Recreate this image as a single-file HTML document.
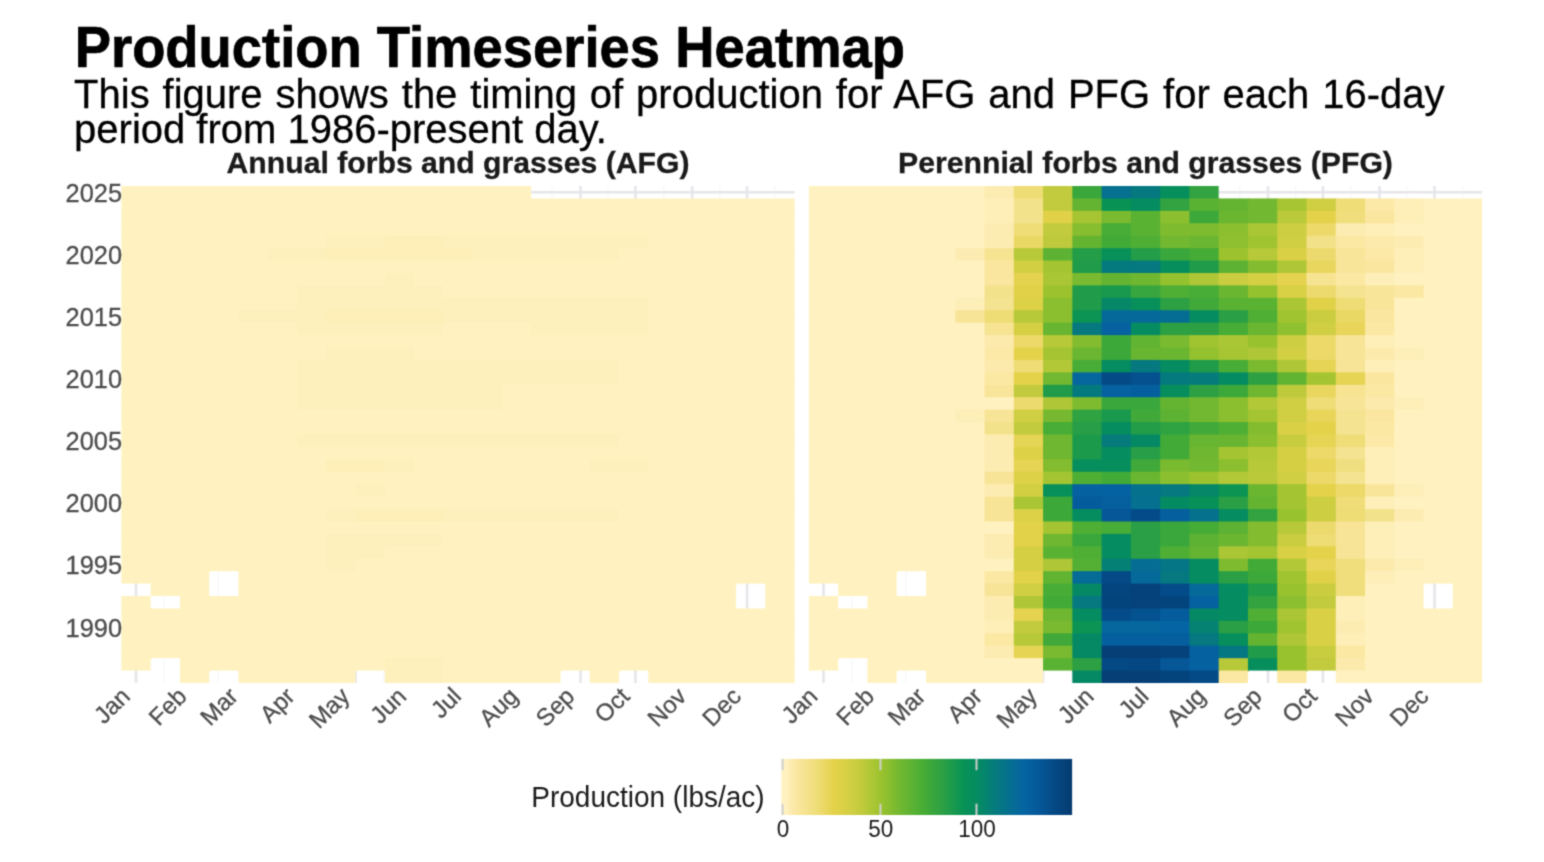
<!DOCTYPE html>
<html><head><meta charset="utf-8"><style>
html,body{margin:0;padding:0;background:#fff;}
body{width:1544px;height:862px;overflow:hidden;position:relative;font-family:"Liberation Sans",sans-serif;}
svg{position:absolute;left:0;top:0;}
.strip{font-weight:bold;font-size:30.2px;fill:#1A1A1A;stroke:#1A1A1A;stroke-width:0.3px;}
.title{font-weight:bold;font-size:54.4px;fill:#000;stroke:#000;stroke-width:0.7px;}
.sub{font-size:40px;fill:#000;stroke:#000;stroke-width:0.3px;}
.ax{font-size:24px;fill:#4D4D4D;stroke:#4D4D4D;stroke-width:0.3px;}
.ay{font-size:25.4px;fill:#4D4D4D;stroke:#4D4D4D;stroke-width:0.3px;}
.leg{font-size:22.5px;fill:#1A1A1A;}
.legt{font-size:28px;fill:#1A1A1A;}
</style></head><body>
<svg width="1544" height="862" viewBox="0 0 1544 862">
<filter id="bl" filterUnits="userSpaceOnUse" x="0" y="0" width="1544" height="862" color-interpolation-filters="sRGB"><feConvolveMatrix order="3" kernelMatrix="0.0300 0.1200 0.0300 0.1200 0.4000 0.1200 0.0300 0.1200 0.0300" divisor="1" edgeMode="duplicate" preserveAlpha="false"/></filter>
<rect width="1544" height="862" fill="#fff"/>
<g filter="url(#bl)">
<text x="74.7" y="66.8" transform="translate(0,66.8) scale(1,1.061) translate(0,-66.8)" class="title">Production Timeseries Heatmap</text>
<text x="74.1" y="108.2" transform="translate(0,108.2) scale(1,1.033) translate(0,-108.2)" class="sub" word-spacing="1.8">This figure shows the timing of production for AFG and PFG for each 16-day</text>
<text x="74.1" y="142.7" transform="translate(0,142.7) scale(1,1.033) translate(0,-142.7)" class="sub">period from 1986-present day.</text>
<line x1="164.39" y1="186.0" x2="164.39" y2="683.0" stroke="#F7F7F9" stroke-width="1.3"/>
<line x1="218.36" y1="186.0" x2="218.36" y2="683.0" stroke="#F7F7F9" stroke-width="1.3"/>
<line x1="272.32" y1="186.0" x2="272.32" y2="683.0" stroke="#F7F7F9" stroke-width="1.3"/>
<line x1="328.12" y1="186.0" x2="328.12" y2="683.0" stroke="#F7F7F9" stroke-width="1.3"/>
<line x1="383.92" y1="186.0" x2="383.92" y2="683.0" stroke="#F7F7F9" stroke-width="1.3"/>
<line x1="439.71" y1="186.0" x2="439.71" y2="683.0" stroke="#F7F7F9" stroke-width="1.3"/>
<line x1="495.51" y1="186.0" x2="495.51" y2="683.0" stroke="#F7F7F9" stroke-width="1.3"/>
<line x1="552.22" y1="186.0" x2="552.22" y2="683.0" stroke="#F7F7F9" stroke-width="1.3"/>
<line x1="608.01" y1="186.0" x2="608.01" y2="683.0" stroke="#F7F7F9" stroke-width="1.3"/>
<line x1="663.81" y1="186.0" x2="663.81" y2="683.0" stroke="#F7F7F9" stroke-width="1.3"/>
<line x1="719.61" y1="186.0" x2="719.61" y2="683.0" stroke="#F7F7F9" stroke-width="1.3"/>
<line x1="775.40" y1="186.0" x2="775.40" y2="683.0" stroke="#F7F7F9" stroke-width="1.3"/>
<line x1="136.03" y1="186.0" x2="136.03" y2="683.0" stroke="#E6E5EA" stroke-width="2.6"/>
<line x1="192.75" y1="186.0" x2="192.75" y2="683.0" stroke="#E6E5EA" stroke-width="2.6"/>
<line x1="243.97" y1="186.0" x2="243.97" y2="683.0" stroke="#E6E5EA" stroke-width="2.6"/>
<line x1="300.68" y1="186.0" x2="300.68" y2="683.0" stroke="#E6E5EA" stroke-width="2.6"/>
<line x1="355.56" y1="186.0" x2="355.56" y2="683.0" stroke="#E6E5EA" stroke-width="2.6"/>
<line x1="412.27" y1="186.0" x2="412.27" y2="683.0" stroke="#E6E5EA" stroke-width="2.6"/>
<line x1="467.15" y1="186.0" x2="467.15" y2="683.0" stroke="#E6E5EA" stroke-width="2.6"/>
<line x1="523.86" y1="186.0" x2="523.86" y2="683.0" stroke="#E6E5EA" stroke-width="2.6"/>
<line x1="580.57" y1="186.0" x2="580.57" y2="683.0" stroke="#E6E5EA" stroke-width="2.6"/>
<line x1="635.45" y1="186.0" x2="635.45" y2="683.0" stroke="#E6E5EA" stroke-width="2.6"/>
<line x1="692.16" y1="186.0" x2="692.16" y2="683.0" stroke="#E6E5EA" stroke-width="2.6"/>
<line x1="747.05" y1="186.0" x2="747.05" y2="683.0" stroke="#E6E5EA" stroke-width="2.6"/>
<line x1="121.4" y1="627.09" x2="794.61" y2="627.09" stroke="#E6E5EA" stroke-width="2.6"/>
<line x1="121.4" y1="564.96" x2="794.61" y2="564.96" stroke="#E6E5EA" stroke-width="2.6"/>
<line x1="121.4" y1="502.84" x2="794.61" y2="502.84" stroke="#E6E5EA" stroke-width="2.6"/>
<line x1="121.4" y1="440.71" x2="794.61" y2="440.71" stroke="#E6E5EA" stroke-width="2.6"/>
<line x1="121.4" y1="378.59" x2="794.61" y2="378.59" stroke="#E6E5EA" stroke-width="2.6"/>
<line x1="121.4" y1="316.46" x2="794.61" y2="316.46" stroke="#E6E5EA" stroke-width="2.6"/>
<line x1="121.4" y1="254.34" x2="794.61" y2="254.34" stroke="#E6E5EA" stroke-width="2.6"/>
<line x1="121.4" y1="192.21" x2="794.61" y2="192.21" stroke="#E6E5EA" stroke-width="2.6"/>
<rect x="121.40" y="186.000" width="409.78" height="13.425" fill="#FFF2C0"/>
<rect x="121.40" y="198.425" width="673.21" height="13.425" fill="#FFF2C0"/>
<rect x="121.40" y="210.850" width="673.21" height="13.425" fill="#FFF2C0"/>
<rect x="121.40" y="223.275" width="673.21" height="13.425" fill="#FFF2C0"/>
<rect x="121.40" y="235.700" width="205.89" height="13.425" fill="#FFF2C0"/>
<rect x="326.29" y="235.700" width="59.54" height="13.425" fill="#FEF0BC"/>
<rect x="384.83" y="235.700" width="59.54" height="13.425" fill="#FEEEB8"/>
<rect x="443.37" y="235.700" width="205.89" height="13.425" fill="#FEF0BC"/>
<rect x="648.26" y="235.700" width="146.35" height="13.425" fill="#FFF2C0"/>
<rect x="121.40" y="248.125" width="147.35" height="13.425" fill="#FFF2C0"/>
<rect x="267.75" y="248.125" width="59.54" height="13.425" fill="#FEF0BC"/>
<rect x="326.29" y="248.125" width="147.35" height="13.425" fill="#FEEEB8"/>
<rect x="472.64" y="248.125" width="147.35" height="13.425" fill="#FEF0BC"/>
<rect x="618.99" y="248.125" width="175.62" height="13.425" fill="#FFF2C0"/>
<rect x="121.40" y="260.550" width="673.21" height="13.425" fill="#FFF2C0"/>
<rect x="121.40" y="272.975" width="264.43" height="13.425" fill="#FFF2C0"/>
<rect x="384.83" y="272.975" width="30.27" height="13.425" fill="#FEF0BC"/>
<rect x="414.10" y="272.975" width="380.51" height="13.425" fill="#FFF2C0"/>
<rect x="121.40" y="285.400" width="176.62" height="13.425" fill="#FFF2C0"/>
<rect x="297.02" y="285.400" width="147.35" height="13.425" fill="#FEF0BC"/>
<rect x="443.37" y="285.400" width="351.24" height="13.425" fill="#FFF2C0"/>
<rect x="121.40" y="297.825" width="176.62" height="13.425" fill="#FFF2C0"/>
<rect x="297.02" y="297.825" width="352.24" height="13.425" fill="#FEF0BC"/>
<rect x="648.26" y="297.825" width="146.35" height="13.425" fill="#FFF2C0"/>
<rect x="121.40" y="310.250" width="118.08" height="13.425" fill="#FFF2C0"/>
<rect x="238.48" y="310.250" width="88.81" height="13.425" fill="#FEF0BC"/>
<rect x="326.29" y="310.250" width="118.08" height="13.425" fill="#FEEEB8"/>
<rect x="443.37" y="310.250" width="205.89" height="13.425" fill="#FEF0BC"/>
<rect x="648.26" y="310.250" width="146.35" height="13.425" fill="#FFF2C0"/>
<rect x="121.40" y="322.675" width="176.62" height="13.425" fill="#FFF2C0"/>
<rect x="297.02" y="322.675" width="147.35" height="13.425" fill="#FEF0BC"/>
<rect x="443.37" y="322.675" width="88.81" height="13.425" fill="#FFF2C0"/>
<rect x="531.18" y="322.675" width="118.08" height="13.425" fill="#FEF0BC"/>
<rect x="648.26" y="322.675" width="146.35" height="13.425" fill="#FFF2C0"/>
<rect x="121.40" y="335.100" width="673.21" height="13.425" fill="#FFF2C0"/>
<rect x="121.40" y="347.525" width="205.89" height="13.425" fill="#FFF2C0"/>
<rect x="326.29" y="347.525" width="88.81" height="13.425" fill="#FEF0BC"/>
<rect x="414.10" y="347.525" width="380.51" height="13.425" fill="#FFF2C0"/>
<rect x="121.40" y="359.950" width="176.62" height="13.425" fill="#FFF2C0"/>
<rect x="297.02" y="359.950" width="322.97" height="13.425" fill="#FEF0BC"/>
<rect x="618.99" y="359.950" width="175.62" height="13.425" fill="#FFF2C0"/>
<rect x="121.40" y="372.375" width="176.62" height="13.425" fill="#FFF2C0"/>
<rect x="297.02" y="372.375" width="322.97" height="13.425" fill="#FEF0BC"/>
<rect x="618.99" y="372.375" width="175.62" height="13.425" fill="#FFF2C0"/>
<rect x="121.40" y="384.800" width="176.62" height="13.425" fill="#FFF2C0"/>
<rect x="297.02" y="384.800" width="205.89" height="13.425" fill="#FEF0BC"/>
<rect x="501.91" y="384.800" width="292.70" height="13.425" fill="#FFF2C0"/>
<rect x="121.40" y="397.225" width="176.62" height="13.425" fill="#FFF2C0"/>
<rect x="297.02" y="397.225" width="205.89" height="13.425" fill="#FEF0BC"/>
<rect x="501.91" y="397.225" width="292.70" height="13.425" fill="#FFF2C0"/>
<rect x="121.40" y="409.650" width="673.21" height="13.425" fill="#FFF2C0"/>
<rect x="121.40" y="422.075" width="673.21" height="13.425" fill="#FFF2C0"/>
<rect x="121.40" y="434.500" width="176.62" height="13.425" fill="#FFF2C0"/>
<rect x="297.02" y="434.500" width="322.97" height="13.425" fill="#FEF0BC"/>
<rect x="618.99" y="434.500" width="175.62" height="13.425" fill="#FFF2C0"/>
<rect x="121.40" y="446.925" width="673.21" height="13.425" fill="#FFF2C0"/>
<rect x="121.40" y="459.350" width="205.89" height="13.425" fill="#FFF2C0"/>
<rect x="326.29" y="459.350" width="59.54" height="13.425" fill="#FEEEB8"/>
<rect x="384.83" y="459.350" width="30.27" height="13.425" fill="#FEF0BC"/>
<rect x="414.10" y="459.350" width="176.62" height="13.425" fill="#FFF2C0"/>
<rect x="589.72" y="459.350" width="59.54" height="13.425" fill="#FEF0BC"/>
<rect x="648.26" y="459.350" width="146.35" height="13.425" fill="#FFF2C0"/>
<rect x="121.40" y="471.775" width="673.21" height="13.425" fill="#FFF2C0"/>
<rect x="121.40" y="484.200" width="235.16" height="13.425" fill="#FFF2C0"/>
<rect x="355.56" y="484.200" width="30.27" height="13.425" fill="#FEF0BC"/>
<rect x="384.83" y="484.200" width="409.78" height="13.425" fill="#FFF2C0"/>
<rect x="121.40" y="496.625" width="673.21" height="13.425" fill="#FFF2C0"/>
<rect x="121.40" y="509.050" width="205.89" height="13.425" fill="#FFF2C0"/>
<rect x="326.29" y="509.050" width="30.27" height="13.425" fill="#FEF0BC"/>
<rect x="355.56" y="509.050" width="88.81" height="13.425" fill="#FEEEB8"/>
<rect x="443.37" y="509.050" width="176.62" height="13.425" fill="#FEF0BC"/>
<rect x="618.99" y="509.050" width="175.62" height="13.425" fill="#FFF2C0"/>
<rect x="121.40" y="521.475" width="673.21" height="13.425" fill="#FFF2C0"/>
<rect x="121.40" y="533.900" width="205.89" height="13.425" fill="#FFF2C0"/>
<rect x="326.29" y="533.900" width="118.08" height="13.425" fill="#FEF0BC"/>
<rect x="443.37" y="533.900" width="351.24" height="13.425" fill="#FFF2C0"/>
<rect x="121.40" y="546.325" width="205.89" height="13.425" fill="#FFF2C0"/>
<rect x="326.29" y="546.325" width="59.54" height="13.425" fill="#FEF0BC"/>
<rect x="384.83" y="546.325" width="409.78" height="13.425" fill="#FFF2C0"/>
<rect x="121.40" y="558.750" width="88.81" height="13.425" fill="#FFF2C0"/>
<rect x="209.21" y="558.750" width="30.27" height="12.425" fill="#FFF2C0"/>
<rect x="238.48" y="558.750" width="88.81" height="13.425" fill="#FFF2C0"/>
<rect x="326.29" y="558.750" width="30.27" height="13.425" fill="#FEF0BC"/>
<rect x="355.56" y="558.750" width="439.05" height="13.425" fill="#FFF2C0"/>
<rect x="121.40" y="571.175" width="30.27" height="12.425" fill="#FFF2C0"/>
<rect x="150.67" y="571.175" width="58.54" height="13.425" fill="#FFF2C0"/>
<rect x="238.48" y="571.175" width="498.59" height="13.425" fill="#FFF2C0"/>
<rect x="736.07" y="571.175" width="30.27" height="12.425" fill="#FFF2C0"/>
<rect x="765.34" y="571.175" width="29.27" height="13.425" fill="#FFF2C0"/>
<rect x="150.67" y="583.600" width="30.27" height="12.425" fill="#FFF2C0"/>
<rect x="179.94" y="583.600" width="29.27" height="13.425" fill="#FFF2C0"/>
<rect x="238.48" y="583.600" width="497.59" height="13.425" fill="#FFF2C0"/>
<rect x="765.34" y="583.600" width="29.27" height="13.425" fill="#FFF2C0"/>
<rect x="121.40" y="596.025" width="29.27" height="13.425" fill="#FFF2C0"/>
<rect x="179.94" y="596.025" width="556.13" height="13.425" fill="#FFF2C0"/>
<rect x="765.34" y="596.025" width="29.27" height="13.425" fill="#FFF2C0"/>
<rect x="121.40" y="608.450" width="673.21" height="13.425" fill="#FFF2C0"/>
<rect x="121.40" y="620.875" width="673.21" height="13.425" fill="#FFF2C0"/>
<rect x="121.40" y="633.300" width="673.21" height="13.425" fill="#FFF2C0"/>
<rect x="121.40" y="645.725" width="30.27" height="13.425" fill="#FFF2C0"/>
<rect x="150.67" y="645.725" width="30.27" height="12.425" fill="#FFF2C0"/>
<rect x="179.94" y="645.725" width="614.67" height="13.425" fill="#FFF2C0"/>
<rect x="121.40" y="658.150" width="29.27" height="12.425" fill="#FFF2C0"/>
<rect x="179.94" y="658.150" width="30.27" height="13.425" fill="#FFF2C0"/>
<rect x="209.21" y="658.150" width="30.27" height="12.425" fill="#FFF2C0"/>
<rect x="238.48" y="658.150" width="118.08" height="13.425" fill="#FFF2C0"/>
<rect x="355.56" y="658.150" width="30.27" height="12.425" fill="#FFF2C0"/>
<rect x="384.83" y="658.150" width="59.54" height="13.425" fill="#FEF0BC"/>
<rect x="443.37" y="658.150" width="118.08" height="13.425" fill="#FFF2C0"/>
<rect x="560.45" y="658.150" width="30.27" height="12.425" fill="#FFF2C0"/>
<rect x="589.72" y="658.150" width="30.27" height="13.425" fill="#FFF2C0"/>
<rect x="618.99" y="658.150" width="30.27" height="12.425" fill="#FFF2C0"/>
<rect x="648.26" y="658.150" width="146.35" height="13.425" fill="#FFF2C0"/>
<rect x="179.94" y="670.575" width="29.27" height="12.425" fill="#FFF2C0"/>
<rect x="238.48" y="670.575" width="117.08" height="12.425" fill="#FFF2C0"/>
<rect x="384.83" y="670.575" width="59.54" height="12.425" fill="#FEF0BC"/>
<rect x="443.37" y="670.575" width="117.08" height="12.425" fill="#FFF2C0"/>
<rect x="589.72" y="670.575" width="29.27" height="12.425" fill="#FFF2C0"/>
<rect x="648.26" y="670.575" width="146.35" height="12.425" fill="#FFF2C0"/>
<text x="458.0" y="172.8" text-anchor="middle" class="strip">Annual forbs and grasses (AFG)</text>
<text class="ax" text-anchor="end" transform="translate(119.2,685.5) rotate(-45)" dy="0.72em">Jan</text>
<text class="ax" text-anchor="end" transform="translate(175.9,685.5) rotate(-45)" dy="0.72em">Feb</text>
<text class="ax" text-anchor="end" transform="translate(227.2,685.5) rotate(-45)" dy="0.72em">Mar</text>
<text class="ax" text-anchor="end" transform="translate(283.9,685.5) rotate(-45)" dy="0.72em">Apr</text>
<text class="ax" text-anchor="end" transform="translate(338.8,685.5) rotate(-45)" dy="0.72em">May</text>
<text class="ax" text-anchor="end" transform="translate(395.5,685.5) rotate(-45)" dy="0.72em">Jun</text>
<text class="ax" text-anchor="end" transform="translate(450.4,685.5) rotate(-45)" dy="0.72em">Jul</text>
<text class="ax" text-anchor="end" transform="translate(507.1,685.5) rotate(-45)" dy="0.72em">Aug</text>
<text class="ax" text-anchor="end" transform="translate(563.8,685.5) rotate(-45)" dy="0.72em">Sep</text>
<text class="ax" text-anchor="end" transform="translate(618.7,685.5) rotate(-45)" dy="0.72em">Oct</text>
<text class="ax" text-anchor="end" transform="translate(675.4,685.5) rotate(-45)" dy="0.72em">Nov</text>
<text class="ax" text-anchor="end" transform="translate(730.2,685.5) rotate(-45)" dy="0.72em">Dec</text>
<line x1="851.89" y1="186.0" x2="851.89" y2="683.0" stroke="#F7F7F9" stroke-width="1.3"/>
<line x1="905.86" y1="186.0" x2="905.86" y2="683.0" stroke="#F7F7F9" stroke-width="1.3"/>
<line x1="959.82" y1="186.0" x2="959.82" y2="683.0" stroke="#F7F7F9" stroke-width="1.3"/>
<line x1="1015.62" y1="186.0" x2="1015.62" y2="683.0" stroke="#F7F7F9" stroke-width="1.3"/>
<line x1="1071.42" y1="186.0" x2="1071.42" y2="683.0" stroke="#F7F7F9" stroke-width="1.3"/>
<line x1="1127.21" y1="186.0" x2="1127.21" y2="683.0" stroke="#F7F7F9" stroke-width="1.3"/>
<line x1="1183.01" y1="186.0" x2="1183.01" y2="683.0" stroke="#F7F7F9" stroke-width="1.3"/>
<line x1="1239.72" y1="186.0" x2="1239.72" y2="683.0" stroke="#F7F7F9" stroke-width="1.3"/>
<line x1="1295.51" y1="186.0" x2="1295.51" y2="683.0" stroke="#F7F7F9" stroke-width="1.3"/>
<line x1="1351.31" y1="186.0" x2="1351.31" y2="683.0" stroke="#F7F7F9" stroke-width="1.3"/>
<line x1="1407.11" y1="186.0" x2="1407.11" y2="683.0" stroke="#F7F7F9" stroke-width="1.3"/>
<line x1="1462.90" y1="186.0" x2="1462.90" y2="683.0" stroke="#F7F7F9" stroke-width="1.3"/>
<line x1="823.53" y1="186.0" x2="823.53" y2="683.0" stroke="#E6E5EA" stroke-width="2.6"/>
<line x1="880.25" y1="186.0" x2="880.25" y2="683.0" stroke="#E6E5EA" stroke-width="2.6"/>
<line x1="931.47" y1="186.0" x2="931.47" y2="683.0" stroke="#E6E5EA" stroke-width="2.6"/>
<line x1="988.18" y1="186.0" x2="988.18" y2="683.0" stroke="#E6E5EA" stroke-width="2.6"/>
<line x1="1043.06" y1="186.0" x2="1043.06" y2="683.0" stroke="#E6E5EA" stroke-width="2.6"/>
<line x1="1099.77" y1="186.0" x2="1099.77" y2="683.0" stroke="#E6E5EA" stroke-width="2.6"/>
<line x1="1154.65" y1="186.0" x2="1154.65" y2="683.0" stroke="#E6E5EA" stroke-width="2.6"/>
<line x1="1211.36" y1="186.0" x2="1211.36" y2="683.0" stroke="#E6E5EA" stroke-width="2.6"/>
<line x1="1268.07" y1="186.0" x2="1268.07" y2="683.0" stroke="#E6E5EA" stroke-width="2.6"/>
<line x1="1322.95" y1="186.0" x2="1322.95" y2="683.0" stroke="#E6E5EA" stroke-width="2.6"/>
<line x1="1379.66" y1="186.0" x2="1379.66" y2="683.0" stroke="#E6E5EA" stroke-width="2.6"/>
<line x1="1434.55" y1="186.0" x2="1434.55" y2="683.0" stroke="#E6E5EA" stroke-width="2.6"/>
<line x1="808.9" y1="627.09" x2="1482.11" y2="627.09" stroke="#E6E5EA" stroke-width="2.6"/>
<line x1="808.9" y1="564.96" x2="1482.11" y2="564.96" stroke="#E6E5EA" stroke-width="2.6"/>
<line x1="808.9" y1="502.84" x2="1482.11" y2="502.84" stroke="#E6E5EA" stroke-width="2.6"/>
<line x1="808.9" y1="440.71" x2="1482.11" y2="440.71" stroke="#E6E5EA" stroke-width="2.6"/>
<line x1="808.9" y1="378.59" x2="1482.11" y2="378.59" stroke="#E6E5EA" stroke-width="2.6"/>
<line x1="808.9" y1="316.46" x2="1482.11" y2="316.46" stroke="#E6E5EA" stroke-width="2.6"/>
<line x1="808.9" y1="254.34" x2="1482.11" y2="254.34" stroke="#E6E5EA" stroke-width="2.6"/>
<line x1="808.9" y1="192.21" x2="1482.11" y2="192.21" stroke="#E6E5EA" stroke-width="2.6"/>
<rect x="808.90" y="186.000" width="176.62" height="13.425" fill="#FFF2C0"/>
<rect x="984.52" y="186.000" width="30.27" height="13.425" fill="#FDECB2"/>
<rect x="1013.79" y="186.000" width="30.27" height="13.425" fill="#EEDC74"/>
<rect x="1043.06" y="186.000" width="30.27" height="13.425" fill="#C2CB3D"/>
<rect x="1072.33" y="186.000" width="30.27" height="13.425" fill="#3AA73C"/>
<rect x="1101.60" y="186.000" width="30.27" height="13.425" fill="#057090"/>
<rect x="1130.87" y="186.000" width="30.27" height="13.425" fill="#057880"/>
<rect x="1160.14" y="186.000" width="30.27" height="13.425" fill="#068F5C"/>
<rect x="1189.41" y="186.000" width="29.27" height="13.425" fill="#32A340"/>
<rect x="808.90" y="198.425" width="176.62" height="13.425" fill="#FFF2C0"/>
<rect x="984.52" y="198.425" width="30.27" height="13.425" fill="#FEEFB9"/>
<rect x="1013.79" y="198.425" width="30.27" height="13.425" fill="#F3E28C"/>
<rect x="1043.06" y="198.425" width="30.27" height="13.425" fill="#C2CB3D"/>
<rect x="1072.33" y="198.425" width="30.27" height="13.425" fill="#64B432"/>
<rect x="1101.60" y="198.425" width="30.27" height="13.425" fill="#089355"/>
<rect x="1130.87" y="198.425" width="30.27" height="13.425" fill="#058C60"/>
<rect x="1160.14" y="198.425" width="30.27" height="13.425" fill="#32A340"/>
<rect x="1189.41" y="198.425" width="30.27" height="13.425" fill="#5AB233"/>
<rect x="1218.68" y="198.425" width="30.27" height="13.425" fill="#64B432"/>
<rect x="1247.95" y="198.425" width="30.27" height="13.425" fill="#72B830"/>
<rect x="1277.22" y="198.425" width="30.27" height="13.425" fill="#A7C532"/>
<rect x="1306.49" y="198.425" width="30.27" height="13.425" fill="#D0CE42"/>
<rect x="1335.76" y="198.425" width="30.27" height="13.425" fill="#EFDD78"/>
<rect x="1365.03" y="198.425" width="30.27" height="13.425" fill="#FCE9A8"/>
<rect x="1394.30" y="198.425" width="30.27" height="13.425" fill="#FEEFB9"/>
<rect x="1423.57" y="198.425" width="58.54" height="13.425" fill="#FFF2C0"/>
<rect x="808.90" y="210.850" width="176.62" height="13.425" fill="#FFF2C0"/>
<rect x="984.52" y="210.850" width="30.27" height="13.425" fill="#FEEFB9"/>
<rect x="1013.79" y="210.850" width="30.27" height="13.425" fill="#F3E28C"/>
<rect x="1043.06" y="210.850" width="30.27" height="13.425" fill="#E0D148"/>
<rect x="1072.33" y="210.850" width="30.27" height="13.425" fill="#A7C532"/>
<rect x="1101.60" y="210.850" width="30.27" height="13.425" fill="#7ABA30"/>
<rect x="1130.87" y="210.850" width="30.27" height="13.425" fill="#5AB233"/>
<rect x="1160.14" y="210.850" width="30.27" height="13.425" fill="#8BBF2F"/>
<rect x="1189.41" y="210.850" width="30.27" height="13.425" fill="#3DA83A"/>
<rect x="1218.68" y="210.850" width="30.27" height="13.425" fill="#6BB631"/>
<rect x="1247.95" y="210.850" width="30.27" height="13.425" fill="#72B830"/>
<rect x="1277.22" y="210.850" width="30.27" height="13.425" fill="#BAC93A"/>
<rect x="1306.49" y="210.850" width="30.27" height="13.425" fill="#E4D24A"/>
<rect x="1335.76" y="210.850" width="30.27" height="13.425" fill="#F0DE7C"/>
<rect x="1365.03" y="210.850" width="30.27" height="13.425" fill="#FAE69E"/>
<rect x="1394.30" y="210.850" width="30.27" height="13.425" fill="#FEEFB9"/>
<rect x="1423.57" y="210.850" width="58.54" height="13.425" fill="#FFF2C0"/>
<rect x="808.90" y="223.275" width="176.62" height="13.425" fill="#FFF2C0"/>
<rect x="984.52" y="223.275" width="30.27" height="13.425" fill="#FDECB2"/>
<rect x="1013.79" y="223.275" width="30.27" height="13.425" fill="#EFDD78"/>
<rect x="1043.06" y="223.275" width="30.27" height="13.425" fill="#C2CB3D"/>
<rect x="1072.33" y="223.275" width="30.27" height="13.425" fill="#87BE2F"/>
<rect x="1101.60" y="223.275" width="30.27" height="13.425" fill="#48AD36"/>
<rect x="1130.87" y="223.275" width="30.27" height="13.425" fill="#5AB233"/>
<rect x="1160.14" y="223.275" width="59.54" height="13.425" fill="#7FBB2F"/>
<rect x="1218.68" y="223.275" width="30.27" height="13.425" fill="#8BBF2F"/>
<rect x="1247.95" y="223.275" width="30.27" height="13.425" fill="#ABC634"/>
<rect x="1277.22" y="223.275" width="30.27" height="13.425" fill="#CDCE41"/>
<rect x="1306.49" y="223.275" width="30.27" height="13.425" fill="#ECD969"/>
<rect x="1335.76" y="223.275" width="30.27" height="13.425" fill="#FDECB2"/>
<rect x="1365.03" y="223.275" width="30.27" height="13.425" fill="#FEEFB9"/>
<rect x="1394.30" y="223.275" width="87.81" height="13.425" fill="#FFF2C0"/>
<rect x="808.90" y="235.700" width="176.62" height="13.425" fill="#FFF2C0"/>
<rect x="984.52" y="235.700" width="30.27" height="13.425" fill="#FDECB2"/>
<rect x="1013.79" y="235.700" width="30.27" height="13.425" fill="#EAD864"/>
<rect x="1043.06" y="235.700" width="30.27" height="13.425" fill="#BECA3C"/>
<rect x="1072.33" y="235.700" width="30.27" height="13.425" fill="#64B432"/>
<rect x="1101.60" y="235.700" width="30.27" height="13.425" fill="#42AB38"/>
<rect x="1130.87" y="235.700" width="30.27" height="13.425" fill="#4FAF35"/>
<rect x="1160.14" y="235.700" width="30.27" height="13.425" fill="#72B830"/>
<rect x="1189.41" y="235.700" width="30.27" height="13.425" fill="#6BB631"/>
<rect x="1218.68" y="235.700" width="30.27" height="13.425" fill="#8FC02F"/>
<rect x="1247.95" y="235.700" width="30.27" height="13.425" fill="#A0C430"/>
<rect x="1277.22" y="235.700" width="30.27" height="13.425" fill="#D0CE42"/>
<rect x="1306.49" y="235.700" width="30.27" height="13.425" fill="#F2E188"/>
<rect x="1335.76" y="235.700" width="30.27" height="13.425" fill="#FBE8A3"/>
<rect x="1365.03" y="235.700" width="30.27" height="13.425" fill="#FCEAAD"/>
<rect x="1394.30" y="235.700" width="30.27" height="13.425" fill="#FDECB2"/>
<rect x="1423.57" y="235.700" width="58.54" height="13.425" fill="#FFF2C0"/>
<rect x="808.90" y="248.125" width="147.35" height="13.425" fill="#FFF2C0"/>
<rect x="955.25" y="248.125" width="30.27" height="13.425" fill="#FDECB2"/>
<rect x="984.52" y="248.125" width="30.27" height="13.425" fill="#F6E493"/>
<rect x="1013.79" y="248.125" width="30.27" height="13.425" fill="#B7C938"/>
<rect x="1043.06" y="248.125" width="30.27" height="13.425" fill="#5DB233"/>
<rect x="1072.33" y="248.125" width="30.27" height="13.425" fill="#239D48"/>
<rect x="1101.60" y="248.125" width="30.27" height="13.425" fill="#079158"/>
<rect x="1130.87" y="248.125" width="30.27" height="13.425" fill="#239D48"/>
<rect x="1160.14" y="248.125" width="30.27" height="13.425" fill="#3AA73C"/>
<rect x="1189.41" y="248.125" width="30.27" height="13.425" fill="#45AC36"/>
<rect x="1218.68" y="248.125" width="30.27" height="13.425" fill="#9CC32E"/>
<rect x="1247.95" y="248.125" width="30.27" height="13.425" fill="#B7C938"/>
<rect x="1277.22" y="248.125" width="30.27" height="13.425" fill="#DAD046"/>
<rect x="1306.49" y="248.125" width="30.27" height="13.425" fill="#EDDA6E"/>
<rect x="1335.76" y="248.125" width="30.27" height="13.425" fill="#F9E59A"/>
<rect x="1365.03" y="248.125" width="30.27" height="13.425" fill="#FCE9A8"/>
<rect x="1394.30" y="248.125" width="30.27" height="13.425" fill="#FEEFB9"/>
<rect x="1423.57" y="248.125" width="58.54" height="13.425" fill="#FFF2C0"/>
<rect x="808.90" y="260.550" width="176.62" height="13.425" fill="#FFF2C0"/>
<rect x="984.52" y="260.550" width="30.27" height="13.425" fill="#FAE69E"/>
<rect x="1013.79" y="260.550" width="30.27" height="13.425" fill="#D2CF43"/>
<rect x="1043.06" y="260.550" width="30.27" height="13.425" fill="#A4C531"/>
<rect x="1072.33" y="260.550" width="30.27" height="13.425" fill="#209B4A"/>
<rect x="1101.60" y="260.550" width="30.27" height="13.425" fill="#057A7E"/>
<rect x="1130.87" y="260.550" width="30.27" height="13.425" fill="#057880"/>
<rect x="1160.14" y="260.550" width="30.27" height="13.425" fill="#068E5D"/>
<rect x="1189.41" y="260.550" width="30.27" height="13.425" fill="#209B4A"/>
<rect x="1218.68" y="260.550" width="30.27" height="13.425" fill="#5DB233"/>
<rect x="1247.95" y="260.550" width="30.27" height="13.425" fill="#83BC2F"/>
<rect x="1277.22" y="260.550" width="30.27" height="13.425" fill="#AFC736"/>
<rect x="1306.49" y="260.550" width="30.27" height="13.425" fill="#E9D65E"/>
<rect x="1335.76" y="260.550" width="30.27" height="13.425" fill="#F9E59A"/>
<rect x="1365.03" y="260.550" width="30.27" height="13.425" fill="#FAE69E"/>
<rect x="1394.30" y="260.550" width="30.27" height="13.425" fill="#FEEFB9"/>
<rect x="1423.57" y="260.550" width="58.54" height="13.425" fill="#FFF2C0"/>
<rect x="808.90" y="272.975" width="176.62" height="13.425" fill="#FFF2C0"/>
<rect x="984.52" y="272.975" width="30.27" height="13.425" fill="#FAE69E"/>
<rect x="1013.79" y="272.975" width="30.27" height="13.425" fill="#E5D34F"/>
<rect x="1043.06" y="272.975" width="30.27" height="13.425" fill="#ABC634"/>
<rect x="1072.33" y="272.975" width="30.27" height="13.425" fill="#7ABA30"/>
<rect x="1101.60" y="272.975" width="30.27" height="13.425" fill="#64B432"/>
<rect x="1130.87" y="272.975" width="30.27" height="13.425" fill="#6FB730"/>
<rect x="1160.14" y="272.975" width="30.27" height="13.425" fill="#94C12E"/>
<rect x="1189.41" y="272.975" width="30.27" height="13.425" fill="#AFC736"/>
<rect x="1218.68" y="272.975" width="30.27" height="13.425" fill="#CACD40"/>
<rect x="1247.95" y="272.975" width="30.27" height="13.425" fill="#D5CF44"/>
<rect x="1277.22" y="272.975" width="30.27" height="13.425" fill="#E5D34F"/>
<rect x="1306.49" y="272.975" width="30.27" height="13.425" fill="#F6E493"/>
<rect x="1335.76" y="272.975" width="30.27" height="13.425" fill="#FBE8A3"/>
<rect x="1365.03" y="272.975" width="30.27" height="13.425" fill="#FEEFB9"/>
<rect x="1394.30" y="272.975" width="87.81" height="13.425" fill="#FFF2C0"/>
<rect x="808.90" y="285.400" width="176.62" height="13.425" fill="#FFF2C0"/>
<rect x="984.52" y="285.400" width="30.27" height="13.425" fill="#F3E28C"/>
<rect x="1013.79" y="285.400" width="30.27" height="13.425" fill="#E0D148"/>
<rect x="1043.06" y="285.400" width="30.27" height="13.425" fill="#9CC32E"/>
<rect x="1072.33" y="285.400" width="30.27" height="13.425" fill="#209B4A"/>
<rect x="1101.60" y="285.400" width="30.27" height="13.425" fill="#19994D"/>
<rect x="1130.87" y="285.400" width="30.27" height="13.425" fill="#38A63E"/>
<rect x="1160.14" y="285.400" width="30.27" height="13.425" fill="#4FAF35"/>
<rect x="1189.41" y="285.400" width="30.27" height="13.425" fill="#48AD36"/>
<rect x="1218.68" y="285.400" width="30.27" height="13.425" fill="#6BB631"/>
<rect x="1247.95" y="285.400" width="30.27" height="13.425" fill="#94C12E"/>
<rect x="1277.22" y="285.400" width="30.27" height="13.425" fill="#D8D045"/>
<rect x="1306.49" y="285.400" width="30.27" height="13.425" fill="#EDDA6E"/>
<rect x="1335.76" y="285.400" width="30.27" height="13.425" fill="#F4E390"/>
<rect x="1365.03" y="285.400" width="30.27" height="13.425" fill="#F9E59A"/>
<rect x="1394.30" y="285.400" width="30.27" height="13.425" fill="#FBE8A3"/>
<rect x="1423.57" y="285.400" width="58.54" height="13.425" fill="#FFF2C0"/>
<rect x="808.90" y="297.825" width="147.35" height="13.425" fill="#FFF2C0"/>
<rect x="955.25" y="297.825" width="30.27" height="13.425" fill="#FEEFB9"/>
<rect x="984.52" y="297.825" width="30.27" height="13.425" fill="#F4E390"/>
<rect x="1013.79" y="297.825" width="30.27" height="13.425" fill="#DCD147"/>
<rect x="1043.06" y="297.825" width="30.27" height="13.425" fill="#8BBF2F"/>
<rect x="1072.33" y="297.825" width="30.27" height="13.425" fill="#209B4A"/>
<rect x="1101.60" y="297.825" width="30.27" height="13.425" fill="#058768"/>
<rect x="1130.87" y="297.825" width="30.27" height="13.425" fill="#07905A"/>
<rect x="1160.14" y="297.825" width="30.27" height="13.425" fill="#2DA044"/>
<rect x="1189.41" y="297.825" width="30.27" height="13.425" fill="#40A939"/>
<rect x="1218.68" y="297.825" width="59.54" height="13.425" fill="#5AB233"/>
<rect x="1277.22" y="297.825" width="30.27" height="13.425" fill="#ABC634"/>
<rect x="1306.49" y="297.825" width="30.27" height="13.425" fill="#E0D148"/>
<rect x="1335.76" y="297.825" width="30.27" height="13.425" fill="#EEDC74"/>
<rect x="1365.03" y="297.825" width="30.27" height="13.425" fill="#F9E59A"/>
<rect x="1394.30" y="297.825" width="87.81" height="13.425" fill="#FFF2C0"/>
<rect x="808.90" y="310.250" width="147.35" height="13.425" fill="#FFF2C0"/>
<rect x="955.25" y="310.250" width="30.27" height="13.425" fill="#F7E497"/>
<rect x="984.52" y="310.250" width="30.27" height="13.425" fill="#EEDC74"/>
<rect x="1013.79" y="310.250" width="30.27" height="13.425" fill="#B7C938"/>
<rect x="1043.06" y="310.250" width="30.27" height="13.425" fill="#8BBF2F"/>
<rect x="1072.33" y="310.250" width="30.27" height="13.425" fill="#0B9453"/>
<rect x="1101.60" y="310.250" width="59.54" height="13.425" fill="#056A99"/>
<rect x="1160.14" y="310.250" width="30.27" height="13.425" fill="#056D94"/>
<rect x="1189.41" y="310.250" width="30.27" height="13.425" fill="#058C60"/>
<rect x="1218.68" y="310.250" width="30.27" height="13.425" fill="#2A9F45"/>
<rect x="1247.95" y="310.250" width="30.27" height="13.425" fill="#4FAF35"/>
<rect x="1277.22" y="310.250" width="30.27" height="13.425" fill="#A0C430"/>
<rect x="1306.49" y="310.250" width="30.27" height="13.425" fill="#CACD40"/>
<rect x="1335.76" y="310.250" width="30.27" height="13.425" fill="#EAD864"/>
<rect x="1365.03" y="310.250" width="30.27" height="13.425" fill="#FAE69E"/>
<rect x="1394.30" y="310.250" width="87.81" height="13.425" fill="#FFF2C0"/>
<rect x="808.90" y="322.675" width="176.62" height="13.425" fill="#FFF2C0"/>
<rect x="984.52" y="322.675" width="30.27" height="13.425" fill="#F6E493"/>
<rect x="1013.79" y="322.675" width="30.27" height="13.425" fill="#D5CF44"/>
<rect x="1043.06" y="322.675" width="30.27" height="13.425" fill="#68B531"/>
<rect x="1072.33" y="322.675" width="30.27" height="13.425" fill="#057880"/>
<rect x="1101.60" y="322.675" width="30.27" height="13.425" fill="#0561A0"/>
<rect x="1130.87" y="322.675" width="30.27" height="13.425" fill="#058C60"/>
<rect x="1160.14" y="322.675" width="59.54" height="13.425" fill="#2DA044"/>
<rect x="1218.68" y="322.675" width="30.27" height="13.425" fill="#48AD36"/>
<rect x="1247.95" y="322.675" width="30.27" height="13.425" fill="#6BB631"/>
<rect x="1277.22" y="322.675" width="30.27" height="13.425" fill="#8FC02F"/>
<rect x="1306.49" y="322.675" width="30.27" height="13.425" fill="#D0CE42"/>
<rect x="1335.76" y="322.675" width="30.27" height="13.425" fill="#E8D559"/>
<rect x="1365.03" y="322.675" width="30.27" height="13.425" fill="#FBE8A3"/>
<rect x="1394.30" y="322.675" width="87.81" height="13.425" fill="#FFF2C0"/>
<rect x="808.90" y="335.100" width="176.62" height="13.425" fill="#FFF2C0"/>
<rect x="984.52" y="335.100" width="30.27" height="13.425" fill="#FCEAAD"/>
<rect x="1013.79" y="335.100" width="30.27" height="13.425" fill="#ECD969"/>
<rect x="1043.06" y="335.100" width="30.27" height="13.425" fill="#B7C938"/>
<rect x="1072.33" y="335.100" width="30.27" height="13.425" fill="#83BC2F"/>
<rect x="1101.60" y="335.100" width="30.27" height="13.425" fill="#3DA83A"/>
<rect x="1130.87" y="335.100" width="30.27" height="13.425" fill="#61B332"/>
<rect x="1160.14" y="335.100" width="30.27" height="13.425" fill="#7ABA30"/>
<rect x="1189.41" y="335.100" width="30.27" height="13.425" fill="#A0C430"/>
<rect x="1218.68" y="335.100" width="30.27" height="13.425" fill="#ABC634"/>
<rect x="1247.95" y="335.100" width="30.27" height="13.425" fill="#98C22E"/>
<rect x="1277.22" y="335.100" width="30.27" height="13.425" fill="#CDCE41"/>
<rect x="1306.49" y="335.100" width="30.27" height="13.425" fill="#ECD969"/>
<rect x="1335.76" y="335.100" width="30.27" height="13.425" fill="#F7E497"/>
<rect x="1365.03" y="335.100" width="30.27" height="13.425" fill="#FEEFB9"/>
<rect x="1394.30" y="335.100" width="87.81" height="13.425" fill="#FFF2C0"/>
<rect x="808.90" y="347.525" width="176.62" height="13.425" fill="#FFF2C0"/>
<rect x="984.52" y="347.525" width="30.27" height="13.425" fill="#FCE9A8"/>
<rect x="1013.79" y="347.525" width="30.27" height="13.425" fill="#E4D24A"/>
<rect x="1043.06" y="347.525" width="30.27" height="13.425" fill="#A4C531"/>
<rect x="1072.33" y="347.525" width="30.27" height="13.425" fill="#6BB631"/>
<rect x="1101.60" y="347.525" width="30.27" height="13.425" fill="#3DA83A"/>
<rect x="1130.87" y="347.525" width="30.27" height="13.425" fill="#68B531"/>
<rect x="1160.14" y="347.525" width="30.27" height="13.425" fill="#6BB631"/>
<rect x="1189.41" y="347.525" width="30.27" height="13.425" fill="#94C12E"/>
<rect x="1218.68" y="347.525" width="30.27" height="13.425" fill="#A7C532"/>
<rect x="1247.95" y="347.525" width="30.27" height="13.425" fill="#AFC736"/>
<rect x="1277.22" y="347.525" width="30.27" height="13.425" fill="#D2CF43"/>
<rect x="1306.49" y="347.525" width="30.27" height="13.425" fill="#ECD969"/>
<rect x="1335.76" y="347.525" width="30.27" height="13.425" fill="#F7E497"/>
<rect x="1365.03" y="347.525" width="30.27" height="13.425" fill="#FCEAAD"/>
<rect x="1394.30" y="347.525" width="30.27" height="13.425" fill="#FEEFB9"/>
<rect x="1423.57" y="347.525" width="58.54" height="13.425" fill="#FFF2C0"/>
<rect x="808.90" y="359.950" width="176.62" height="13.425" fill="#FFF2C0"/>
<rect x="984.52" y="359.950" width="30.27" height="13.425" fill="#FCEAAD"/>
<rect x="1013.79" y="359.950" width="30.27" height="13.425" fill="#EEDC74"/>
<rect x="1043.06" y="359.950" width="30.27" height="13.425" fill="#B3C837"/>
<rect x="1072.33" y="359.950" width="30.27" height="13.425" fill="#48AD36"/>
<rect x="1101.60" y="359.950" width="30.27" height="13.425" fill="#058C60"/>
<rect x="1130.87" y="359.950" width="30.27" height="13.425" fill="#057880"/>
<rect x="1160.14" y="359.950" width="30.27" height="13.425" fill="#058C60"/>
<rect x="1189.41" y="359.950" width="30.27" height="13.425" fill="#209B4A"/>
<rect x="1218.68" y="359.950" width="30.27" height="13.425" fill="#48AD36"/>
<rect x="1247.95" y="359.950" width="30.27" height="13.425" fill="#7ABA30"/>
<rect x="1277.22" y="359.950" width="30.27" height="13.425" fill="#AFC736"/>
<rect x="1306.49" y="359.950" width="30.27" height="13.425" fill="#E6D454"/>
<rect x="1335.76" y="359.950" width="30.27" height="13.425" fill="#F7E497"/>
<rect x="1365.03" y="359.950" width="30.27" height="13.425" fill="#FEEFB9"/>
<rect x="1394.30" y="359.950" width="87.81" height="13.425" fill="#FFF2C0"/>
<rect x="808.90" y="372.375" width="176.62" height="13.425" fill="#FFF2C0"/>
<rect x="984.52" y="372.375" width="30.27" height="13.425" fill="#FBE8A3"/>
<rect x="1013.79" y="372.375" width="30.27" height="13.425" fill="#E4D24A"/>
<rect x="1043.06" y="372.375" width="30.27" height="13.425" fill="#72B830"/>
<rect x="1072.33" y="372.375" width="30.27" height="13.425" fill="#05679E"/>
<rect x="1101.60" y="372.375" width="30.27" height="13.425" fill="#044A86"/>
<rect x="1130.87" y="372.375" width="30.27" height="13.425" fill="#05508E"/>
<rect x="1160.14" y="372.375" width="30.27" height="13.425" fill="#057A7E"/>
<rect x="1189.41" y="372.375" width="30.27" height="13.425" fill="#057C7B"/>
<rect x="1218.68" y="372.375" width="30.27" height="13.425" fill="#058B62"/>
<rect x="1247.95" y="372.375" width="30.27" height="13.425" fill="#2DA044"/>
<rect x="1277.22" y="372.375" width="30.27" height="13.425" fill="#61B332"/>
<rect x="1306.49" y="372.375" width="30.27" height="13.425" fill="#A4C531"/>
<rect x="1335.76" y="372.375" width="30.27" height="13.425" fill="#E6D454"/>
<rect x="1365.03" y="372.375" width="30.27" height="13.425" fill="#FAE69E"/>
<rect x="1394.30" y="372.375" width="87.81" height="13.425" fill="#FFF2C0"/>
<rect x="808.90" y="384.800" width="176.62" height="13.425" fill="#FFF2C0"/>
<rect x="984.52" y="384.800" width="30.27" height="13.425" fill="#F9E59A"/>
<rect x="1013.79" y="384.800" width="30.27" height="13.425" fill="#C2CB3D"/>
<rect x="1043.06" y="384.800" width="30.27" height="13.425" fill="#209B4A"/>
<rect x="1072.33" y="384.800" width="30.27" height="13.425" fill="#057A7E"/>
<rect x="1101.60" y="384.800" width="30.27" height="13.425" fill="#0561A0"/>
<rect x="1130.87" y="384.800" width="30.27" height="13.425" fill="#055F9F"/>
<rect x="1160.14" y="384.800" width="30.27" height="13.425" fill="#068E5D"/>
<rect x="1189.41" y="384.800" width="30.27" height="13.425" fill="#2DA044"/>
<rect x="1218.68" y="384.800" width="30.27" height="13.425" fill="#3DA83A"/>
<rect x="1247.95" y="384.800" width="30.27" height="13.425" fill="#6FB730"/>
<rect x="1277.22" y="384.800" width="30.27" height="13.425" fill="#BECA3C"/>
<rect x="1306.49" y="384.800" width="30.27" height="13.425" fill="#E9D65E"/>
<rect x="1335.76" y="384.800" width="30.27" height="13.425" fill="#F6E493"/>
<rect x="1365.03" y="384.800" width="30.27" height="13.425" fill="#FBE8A3"/>
<rect x="1394.30" y="384.800" width="87.81" height="13.425" fill="#FFF2C0"/>
<rect x="808.90" y="397.225" width="205.89" height="13.425" fill="#FFF2C0"/>
<rect x="1013.79" y="397.225" width="30.27" height="13.425" fill="#EDDA6E"/>
<rect x="1043.06" y="397.225" width="30.27" height="13.425" fill="#AFC736"/>
<rect x="1072.33" y="397.225" width="30.27" height="13.425" fill="#7FBB2F"/>
<rect x="1101.60" y="397.225" width="59.54" height="13.425" fill="#3AA73C"/>
<rect x="1160.14" y="397.225" width="30.27" height="13.425" fill="#64B432"/>
<rect x="1189.41" y="397.225" width="30.27" height="13.425" fill="#72B830"/>
<rect x="1218.68" y="397.225" width="30.27" height="13.425" fill="#8BBF2F"/>
<rect x="1247.95" y="397.225" width="30.27" height="13.425" fill="#B3C837"/>
<rect x="1277.22" y="397.225" width="30.27" height="13.425" fill="#D0CE42"/>
<rect x="1306.49" y="397.225" width="30.27" height="13.425" fill="#EFDD78"/>
<rect x="1335.76" y="397.225" width="30.27" height="13.425" fill="#F7E497"/>
<rect x="1365.03" y="397.225" width="30.27" height="13.425" fill="#FCEAAD"/>
<rect x="1394.30" y="397.225" width="30.27" height="13.425" fill="#FEEFB9"/>
<rect x="1423.57" y="397.225" width="58.54" height="13.425" fill="#FFF2C0"/>
<rect x="808.90" y="409.650" width="147.35" height="13.425" fill="#FFF2C0"/>
<rect x="955.25" y="409.650" width="30.27" height="13.425" fill="#FEEFB9"/>
<rect x="984.52" y="409.650" width="30.27" height="13.425" fill="#F7E497"/>
<rect x="1013.79" y="409.650" width="30.27" height="13.425" fill="#D0CE42"/>
<rect x="1043.06" y="409.650" width="30.27" height="13.425" fill="#76B930"/>
<rect x="1072.33" y="409.650" width="30.27" height="13.425" fill="#2FA242"/>
<rect x="1101.60" y="409.650" width="30.27" height="13.425" fill="#19994D"/>
<rect x="1130.87" y="409.650" width="30.27" height="13.425" fill="#40A939"/>
<rect x="1160.14" y="409.650" width="30.27" height="13.425" fill="#5DB233"/>
<rect x="1189.41" y="409.650" width="30.27" height="13.425" fill="#72B830"/>
<rect x="1218.68" y="409.650" width="30.27" height="13.425" fill="#8BBF2F"/>
<rect x="1247.95" y="409.650" width="30.27" height="13.425" fill="#A4C531"/>
<rect x="1277.22" y="409.650" width="30.27" height="13.425" fill="#D0CE42"/>
<rect x="1306.49" y="409.650" width="30.27" height="13.425" fill="#E8D559"/>
<rect x="1335.76" y="409.650" width="30.27" height="13.425" fill="#F4E390"/>
<rect x="1365.03" y="409.650" width="30.27" height="13.425" fill="#FAE69E"/>
<rect x="1394.30" y="409.650" width="87.81" height="13.425" fill="#FFF2C0"/>
<rect x="808.90" y="422.075" width="176.62" height="13.425" fill="#FFF2C0"/>
<rect x="984.52" y="422.075" width="30.27" height="13.425" fill="#F3E28C"/>
<rect x="1013.79" y="422.075" width="30.27" height="13.425" fill="#C2CB3D"/>
<rect x="1043.06" y="422.075" width="30.27" height="13.425" fill="#48AD36"/>
<rect x="1072.33" y="422.075" width="30.27" height="13.425" fill="#279E47"/>
<rect x="1101.60" y="422.075" width="30.27" height="13.425" fill="#068D5F"/>
<rect x="1130.87" y="422.075" width="30.27" height="13.425" fill="#239D48"/>
<rect x="1160.14" y="422.075" width="30.27" height="13.425" fill="#2FA242"/>
<rect x="1189.41" y="422.075" width="30.27" height="13.425" fill="#40A939"/>
<rect x="1218.68" y="422.075" width="30.27" height="13.425" fill="#4FAF35"/>
<rect x="1247.95" y="422.075" width="30.27" height="13.425" fill="#83BC2F"/>
<rect x="1277.22" y="422.075" width="30.27" height="13.425" fill="#DAD046"/>
<rect x="1306.49" y="422.075" width="30.27" height="13.425" fill="#E4D24A"/>
<rect x="1335.76" y="422.075" width="30.27" height="13.425" fill="#F4E390"/>
<rect x="1365.03" y="422.075" width="30.27" height="13.425" fill="#FBE8A3"/>
<rect x="1394.30" y="422.075" width="87.81" height="13.425" fill="#FFF2C0"/>
<rect x="808.90" y="434.500" width="176.62" height="13.425" fill="#FFF2C0"/>
<rect x="984.52" y="434.500" width="30.27" height="13.425" fill="#FDECB2"/>
<rect x="1013.79" y="434.500" width="30.27" height="13.425" fill="#E6D454"/>
<rect x="1043.06" y="434.500" width="30.27" height="13.425" fill="#6FB730"/>
<rect x="1072.33" y="434.500" width="30.27" height="13.425" fill="#1C9A4B"/>
<rect x="1101.60" y="434.500" width="30.27" height="13.425" fill="#057C7B"/>
<rect x="1130.87" y="434.500" width="30.27" height="13.425" fill="#058965"/>
<rect x="1160.14" y="434.500" width="30.27" height="13.425" fill="#42AB38"/>
<rect x="1189.41" y="434.500" width="59.54" height="13.425" fill="#68B531"/>
<rect x="1247.95" y="434.500" width="30.27" height="13.425" fill="#8BBF2F"/>
<rect x="1277.22" y="434.500" width="30.27" height="13.425" fill="#C8CC3F"/>
<rect x="1306.49" y="434.500" width="30.27" height="13.425" fill="#E6D454"/>
<rect x="1335.76" y="434.500" width="30.27" height="13.425" fill="#EFDD78"/>
<rect x="1365.03" y="434.500" width="30.27" height="13.425" fill="#FCE9A8"/>
<rect x="1394.30" y="434.500" width="87.81" height="13.425" fill="#FFF2C0"/>
<rect x="808.90" y="446.925" width="176.62" height="13.425" fill="#FFF2C0"/>
<rect x="984.52" y="446.925" width="30.27" height="13.425" fill="#FDECB2"/>
<rect x="1013.79" y="446.925" width="30.27" height="13.425" fill="#DCD147"/>
<rect x="1043.06" y="446.925" width="30.27" height="13.425" fill="#6FB730"/>
<rect x="1072.33" y="446.925" width="30.27" height="13.425" fill="#1C9A4B"/>
<rect x="1101.60" y="446.925" width="30.27" height="13.425" fill="#068D5F"/>
<rect x="1130.87" y="446.925" width="30.27" height="13.425" fill="#279E47"/>
<rect x="1160.14" y="446.925" width="30.27" height="13.425" fill="#42AB38"/>
<rect x="1189.41" y="446.925" width="30.27" height="13.425" fill="#6FB730"/>
<rect x="1218.68" y="446.925" width="30.27" height="13.425" fill="#A4C531"/>
<rect x="1247.95" y="446.925" width="30.27" height="13.425" fill="#B3C837"/>
<rect x="1277.22" y="446.925" width="30.27" height="13.425" fill="#D5CF44"/>
<rect x="1306.49" y="446.925" width="30.27" height="13.425" fill="#ECD969"/>
<rect x="1335.76" y="446.925" width="30.27" height="13.425" fill="#F4E390"/>
<rect x="1365.03" y="446.925" width="30.27" height="13.425" fill="#FEEFB9"/>
<rect x="1394.30" y="446.925" width="87.81" height="13.425" fill="#FFF2C0"/>
<rect x="808.90" y="459.350" width="176.62" height="13.425" fill="#FFF2C0"/>
<rect x="984.52" y="459.350" width="30.27" height="13.425" fill="#FDECB2"/>
<rect x="1013.79" y="459.350" width="30.27" height="13.425" fill="#E6D454"/>
<rect x="1043.06" y="459.350" width="30.27" height="13.425" fill="#83BC2F"/>
<rect x="1072.33" y="459.350" width="59.54" height="13.425" fill="#068E5D"/>
<rect x="1130.87" y="459.350" width="30.27" height="13.425" fill="#40A939"/>
<rect x="1160.14" y="459.350" width="30.27" height="13.425" fill="#7ABA30"/>
<rect x="1189.41" y="459.350" width="30.27" height="13.425" fill="#72B830"/>
<rect x="1218.68" y="459.350" width="30.27" height="13.425" fill="#8BBF2F"/>
<rect x="1247.95" y="459.350" width="30.27" height="13.425" fill="#B7C938"/>
<rect x="1277.22" y="459.350" width="30.27" height="13.425" fill="#D5CF44"/>
<rect x="1306.49" y="459.350" width="30.27" height="13.425" fill="#E8D559"/>
<rect x="1335.76" y="459.350" width="30.27" height="13.425" fill="#F0DF80"/>
<rect x="1365.03" y="459.350" width="30.27" height="13.425" fill="#FEEFB9"/>
<rect x="1394.30" y="459.350" width="87.81" height="13.425" fill="#FFF2C0"/>
<rect x="808.90" y="471.775" width="176.62" height="13.425" fill="#FFF2C0"/>
<rect x="984.52" y="471.775" width="30.27" height="13.425" fill="#F7E497"/>
<rect x="1013.79" y="471.775" width="30.27" height="13.425" fill="#DCD147"/>
<rect x="1043.06" y="471.775" width="30.27" height="13.425" fill="#A4C531"/>
<rect x="1072.33" y="471.775" width="30.27" height="13.425" fill="#4FAF35"/>
<rect x="1101.60" y="471.775" width="30.27" height="13.425" fill="#42AB38"/>
<rect x="1130.87" y="471.775" width="30.27" height="13.425" fill="#6BB631"/>
<rect x="1160.14" y="471.775" width="30.27" height="13.425" fill="#8BBF2F"/>
<rect x="1189.41" y="471.775" width="30.27" height="13.425" fill="#9CC32E"/>
<rect x="1218.68" y="471.775" width="30.27" height="13.425" fill="#B3C837"/>
<rect x="1247.95" y="471.775" width="30.27" height="13.425" fill="#BAC93A"/>
<rect x="1277.22" y="471.775" width="30.27" height="13.425" fill="#D0CE42"/>
<rect x="1306.49" y="471.775" width="30.27" height="13.425" fill="#ECD969"/>
<rect x="1335.76" y="471.775" width="30.27" height="13.425" fill="#F4E390"/>
<rect x="1365.03" y="471.775" width="30.27" height="13.425" fill="#FEEFB9"/>
<rect x="1394.30" y="471.775" width="87.81" height="13.425" fill="#FFF2C0"/>
<rect x="808.90" y="484.200" width="176.62" height="13.425" fill="#FFF2C0"/>
<rect x="984.52" y="484.200" width="30.27" height="13.425" fill="#FDECB2"/>
<rect x="1013.79" y="484.200" width="30.27" height="13.425" fill="#D2CF43"/>
<rect x="1043.06" y="484.200" width="30.27" height="13.425" fill="#07905A"/>
<rect x="1072.33" y="484.200" width="30.27" height="13.425" fill="#0561A0"/>
<rect x="1101.60" y="484.200" width="30.27" height="13.425" fill="#0562A2"/>
<rect x="1130.87" y="484.200" width="30.27" height="13.425" fill="#05718D"/>
<rect x="1160.14" y="484.200" width="30.27" height="13.425" fill="#057880"/>
<rect x="1189.41" y="484.200" width="30.27" height="13.425" fill="#058768"/>
<rect x="1218.68" y="484.200" width="30.27" height="13.425" fill="#0B9453"/>
<rect x="1247.95" y="484.200" width="30.27" height="13.425" fill="#6BB631"/>
<rect x="1277.22" y="484.200" width="30.27" height="13.425" fill="#A4C531"/>
<rect x="1306.49" y="484.200" width="30.27" height="13.425" fill="#E4D24A"/>
<rect x="1335.76" y="484.200" width="30.27" height="13.425" fill="#ECD969"/>
<rect x="1365.03" y="484.200" width="30.27" height="13.425" fill="#F9E59A"/>
<rect x="1394.30" y="484.200" width="30.27" height="13.425" fill="#FEEFB9"/>
<rect x="1423.57" y="484.200" width="58.54" height="13.425" fill="#FFF2C0"/>
<rect x="808.90" y="496.625" width="176.62" height="13.425" fill="#FFF2C0"/>
<rect x="984.52" y="496.625" width="30.27" height="13.425" fill="#F7E497"/>
<rect x="1013.79" y="496.625" width="30.27" height="13.425" fill="#ABC634"/>
<rect x="1043.06" y="496.625" width="30.27" height="13.425" fill="#3DA83A"/>
<rect x="1072.33" y="496.625" width="30.27" height="13.425" fill="#055C9C"/>
<rect x="1101.60" y="496.625" width="30.27" height="13.425" fill="#055F9F"/>
<rect x="1130.87" y="496.625" width="30.27" height="13.425" fill="#057090"/>
<rect x="1160.14" y="496.625" width="30.27" height="13.425" fill="#058B62"/>
<rect x="1189.41" y="496.625" width="30.27" height="13.425" fill="#079158"/>
<rect x="1218.68" y="496.625" width="30.27" height="13.425" fill="#2A9F45"/>
<rect x="1247.95" y="496.625" width="30.27" height="13.425" fill="#64B432"/>
<rect x="1277.22" y="496.625" width="30.27" height="13.425" fill="#A4C531"/>
<rect x="1306.49" y="496.625" width="30.27" height="13.425" fill="#CDCE41"/>
<rect x="1335.76" y="496.625" width="30.27" height="13.425" fill="#EFDD78"/>
<rect x="1365.03" y="496.625" width="30.27" height="13.425" fill="#FEEFB9"/>
<rect x="1394.30" y="496.625" width="87.81" height="13.425" fill="#FFF2C0"/>
<rect x="808.90" y="509.050" width="176.62" height="13.425" fill="#FFF2C0"/>
<rect x="984.52" y="509.050" width="30.27" height="13.425" fill="#F7E497"/>
<rect x="1013.79" y="509.050" width="30.27" height="13.425" fill="#DCD147"/>
<rect x="1043.06" y="509.050" width="30.27" height="13.425" fill="#3DA83A"/>
<rect x="1072.33" y="509.050" width="30.27" height="13.425" fill="#068D5F"/>
<rect x="1101.60" y="509.050" width="30.27" height="13.425" fill="#055798"/>
<rect x="1130.87" y="509.050" width="30.27" height="13.425" fill="#044C89"/>
<rect x="1160.14" y="509.050" width="30.27" height="13.425" fill="#055F9F"/>
<rect x="1189.41" y="509.050" width="30.27" height="13.425" fill="#05718D"/>
<rect x="1218.68" y="509.050" width="30.27" height="13.425" fill="#058C60"/>
<rect x="1247.95" y="509.050" width="30.27" height="13.425" fill="#32A340"/>
<rect x="1277.22" y="509.050" width="30.27" height="13.425" fill="#98C22E"/>
<rect x="1306.49" y="509.050" width="30.27" height="13.425" fill="#CDCE41"/>
<rect x="1335.76" y="509.050" width="30.27" height="13.425" fill="#EEDC74"/>
<rect x="1365.03" y="509.050" width="30.27" height="13.425" fill="#F3E28C"/>
<rect x="1394.30" y="509.050" width="30.27" height="13.425" fill="#FDECB2"/>
<rect x="1423.57" y="509.050" width="58.54" height="13.425" fill="#FFF2C0"/>
<rect x="808.90" y="521.475" width="205.89" height="13.425" fill="#FFF2C0"/>
<rect x="1013.79" y="521.475" width="30.27" height="13.425" fill="#E2D249"/>
<rect x="1043.06" y="521.475" width="30.27" height="13.425" fill="#A4C531"/>
<rect x="1072.33" y="521.475" width="30.27" height="13.425" fill="#4FAF35"/>
<rect x="1101.60" y="521.475" width="30.27" height="13.425" fill="#48AD36"/>
<rect x="1130.87" y="521.475" width="30.27" height="13.425" fill="#2A9F45"/>
<rect x="1160.14" y="521.475" width="30.27" height="13.425" fill="#3AA73C"/>
<rect x="1189.41" y="521.475" width="30.27" height="13.425" fill="#45AC36"/>
<rect x="1218.68" y="521.475" width="30.27" height="13.425" fill="#5DB233"/>
<rect x="1247.95" y="521.475" width="30.27" height="13.425" fill="#83BC2F"/>
<rect x="1277.22" y="521.475" width="30.27" height="13.425" fill="#B7C938"/>
<rect x="1306.49" y="521.475" width="30.27" height="13.425" fill="#EDDA6E"/>
<rect x="1335.76" y="521.475" width="30.27" height="13.425" fill="#F7E497"/>
<rect x="1365.03" y="521.475" width="30.27" height="13.425" fill="#FEEFB9"/>
<rect x="1394.30" y="521.475" width="87.81" height="13.425" fill="#FFF2C0"/>
<rect x="808.90" y="533.900" width="176.62" height="13.425" fill="#FFF2C0"/>
<rect x="984.52" y="533.900" width="30.27" height="13.425" fill="#FDECB2"/>
<rect x="1013.79" y="533.900" width="30.27" height="13.425" fill="#E2D249"/>
<rect x="1043.06" y="533.900" width="30.27" height="13.425" fill="#6FB730"/>
<rect x="1072.33" y="533.900" width="30.27" height="13.425" fill="#3AA73C"/>
<rect x="1101.60" y="533.900" width="30.27" height="13.425" fill="#058C60"/>
<rect x="1130.87" y="533.900" width="30.27" height="13.425" fill="#2A9F45"/>
<rect x="1160.14" y="533.900" width="30.27" height="13.425" fill="#3AA73C"/>
<rect x="1189.41" y="533.900" width="30.27" height="13.425" fill="#5DB233"/>
<rect x="1218.68" y="533.900" width="30.27" height="13.425" fill="#6BB631"/>
<rect x="1247.95" y="533.900" width="30.27" height="13.425" fill="#83BC2F"/>
<rect x="1277.22" y="533.900" width="30.27" height="13.425" fill="#CACD40"/>
<rect x="1306.49" y="533.900" width="30.27" height="13.425" fill="#EEDC74"/>
<rect x="1335.76" y="533.900" width="30.27" height="13.425" fill="#F7E497"/>
<rect x="1365.03" y="533.900" width="30.27" height="13.425" fill="#FEEFB9"/>
<rect x="1394.30" y="533.900" width="87.81" height="13.425" fill="#FFF2C0"/>
<rect x="808.90" y="546.325" width="176.62" height="13.425" fill="#FFF2C0"/>
<rect x="984.52" y="546.325" width="30.27" height="13.425" fill="#FDECB2"/>
<rect x="1013.79" y="546.325" width="30.27" height="13.425" fill="#D5CF44"/>
<rect x="1043.06" y="546.325" width="30.27" height="13.425" fill="#5AB233"/>
<rect x="1072.33" y="546.325" width="30.27" height="13.425" fill="#4FAF35"/>
<rect x="1101.60" y="546.325" width="30.27" height="13.425" fill="#058C60"/>
<rect x="1130.87" y="546.325" width="30.27" height="13.425" fill="#2A9F45"/>
<rect x="1160.14" y="546.325" width="30.27" height="13.425" fill="#4FAF35"/>
<rect x="1189.41" y="546.325" width="30.27" height="13.425" fill="#64B432"/>
<rect x="1218.68" y="546.325" width="30.27" height="13.425" fill="#ABC634"/>
<rect x="1247.95" y="546.325" width="30.27" height="13.425" fill="#A4C531"/>
<rect x="1277.22" y="546.325" width="30.27" height="13.425" fill="#D8D045"/>
<rect x="1306.49" y="546.325" width="30.27" height="13.425" fill="#E4D24A"/>
<rect x="1335.76" y="546.325" width="30.27" height="13.425" fill="#F7E497"/>
<rect x="1365.03" y="546.325" width="30.27" height="13.425" fill="#FEEFB9"/>
<rect x="1394.30" y="546.325" width="87.81" height="13.425" fill="#FFF2C0"/>
<rect x="808.90" y="558.750" width="88.81" height="13.425" fill="#FFF2C0"/>
<rect x="896.71" y="558.750" width="30.27" height="12.425" fill="#FFF2C0"/>
<rect x="925.98" y="558.750" width="88.81" height="13.425" fill="#FFF2C0"/>
<rect x="1013.79" y="558.750" width="30.27" height="13.425" fill="#D5CF44"/>
<rect x="1043.06" y="558.750" width="30.27" height="13.425" fill="#AFC736"/>
<rect x="1072.33" y="558.750" width="30.27" height="13.425" fill="#53B034"/>
<rect x="1101.60" y="558.750" width="30.27" height="13.425" fill="#058075"/>
<rect x="1130.87" y="558.750" width="30.27" height="13.425" fill="#056D94"/>
<rect x="1160.14" y="558.750" width="30.27" height="13.425" fill="#057686"/>
<rect x="1189.41" y="558.750" width="30.27" height="13.425" fill="#058C60"/>
<rect x="1218.68" y="558.750" width="30.27" height="13.425" fill="#7FBB2F"/>
<rect x="1247.95" y="558.750" width="30.27" height="13.425" fill="#42AB38"/>
<rect x="1277.22" y="558.750" width="30.27" height="13.425" fill="#B3C837"/>
<rect x="1306.49" y="558.750" width="30.27" height="13.425" fill="#E8D559"/>
<rect x="1335.76" y="558.750" width="30.27" height="13.425" fill="#F0DE7C"/>
<rect x="1365.03" y="558.750" width="30.27" height="13.425" fill="#FCEAAD"/>
<rect x="1394.30" y="558.750" width="30.27" height="13.425" fill="#FEEFB9"/>
<rect x="1423.57" y="558.750" width="58.54" height="13.425" fill="#FFF2C0"/>
<rect x="808.90" y="571.175" width="30.27" height="12.425" fill="#FFF2C0"/>
<rect x="838.17" y="571.175" width="58.54" height="13.425" fill="#FFF2C0"/>
<rect x="925.98" y="571.175" width="59.54" height="13.425" fill="#FFF2C0"/>
<rect x="984.52" y="571.175" width="30.27" height="13.425" fill="#FBE8A3"/>
<rect x="1013.79" y="571.175" width="30.27" height="13.425" fill="#E2D249"/>
<rect x="1043.06" y="571.175" width="30.27" height="13.425" fill="#61B332"/>
<rect x="1072.33" y="571.175" width="30.27" height="13.425" fill="#056B97"/>
<rect x="1101.60" y="571.175" width="30.27" height="13.425" fill="#044A86"/>
<rect x="1130.87" y="571.175" width="30.27" height="13.425" fill="#056A99"/>
<rect x="1160.14" y="571.175" width="30.27" height="13.425" fill="#057880"/>
<rect x="1189.41" y="571.175" width="30.27" height="13.425" fill="#058C60"/>
<rect x="1218.68" y="571.175" width="30.27" height="13.425" fill="#2A9F45"/>
<rect x="1247.95" y="571.175" width="30.27" height="13.425" fill="#3DA83A"/>
<rect x="1277.22" y="571.175" width="30.27" height="13.425" fill="#A0C430"/>
<rect x="1306.49" y="571.175" width="30.27" height="13.425" fill="#E0D148"/>
<rect x="1335.76" y="571.175" width="30.27" height="13.425" fill="#F0DE7C"/>
<rect x="1365.03" y="571.175" width="30.27" height="13.425" fill="#FEEFB9"/>
<rect x="1394.30" y="571.175" width="30.27" height="13.425" fill="#FFF2C0"/>
<rect x="1423.57" y="571.175" width="30.27" height="12.425" fill="#FFF2C0"/>
<rect x="1452.84" y="571.175" width="29.27" height="13.425" fill="#FFF2C0"/>
<rect x="838.17" y="583.600" width="30.27" height="12.425" fill="#FFF2C0"/>
<rect x="867.44" y="583.600" width="29.27" height="13.425" fill="#FFF2C0"/>
<rect x="925.98" y="583.600" width="59.54" height="13.425" fill="#FFF2C0"/>
<rect x="984.52" y="583.600" width="30.27" height="13.425" fill="#F7E497"/>
<rect x="1013.79" y="583.600" width="30.27" height="13.425" fill="#D0CE42"/>
<rect x="1043.06" y="583.600" width="30.27" height="13.425" fill="#48AD36"/>
<rect x="1072.33" y="583.600" width="30.27" height="13.425" fill="#058965"/>
<rect x="1101.60" y="583.600" width="30.27" height="13.425" fill="#04457F"/>
<rect x="1130.87" y="583.600" width="30.27" height="13.425" fill="#05427B"/>
<rect x="1160.14" y="583.600" width="30.27" height="13.425" fill="#044C89"/>
<rect x="1189.41" y="583.600" width="30.27" height="13.425" fill="#056A99"/>
<rect x="1218.68" y="583.600" width="30.27" height="13.425" fill="#058C60"/>
<rect x="1247.95" y="583.600" width="30.27" height="13.425" fill="#209B4A"/>
<rect x="1277.22" y="583.600" width="30.27" height="13.425" fill="#98C22E"/>
<rect x="1306.49" y="583.600" width="30.27" height="13.425" fill="#CACD40"/>
<rect x="1335.76" y="583.600" width="30.27" height="13.425" fill="#F0DE7C"/>
<rect x="1365.03" y="583.600" width="58.54" height="13.425" fill="#FFF2C0"/>
<rect x="1452.84" y="583.600" width="29.27" height="13.425" fill="#FFF2C0"/>
<rect x="808.90" y="596.025" width="29.27" height="13.425" fill="#FFF2C0"/>
<rect x="867.44" y="596.025" width="118.08" height="13.425" fill="#FFF2C0"/>
<rect x="984.52" y="596.025" width="30.27" height="13.425" fill="#FDECB2"/>
<rect x="1013.79" y="596.025" width="30.27" height="13.425" fill="#AFC736"/>
<rect x="1043.06" y="596.025" width="30.27" height="13.425" fill="#42AB38"/>
<rect x="1072.33" y="596.025" width="30.27" height="13.425" fill="#057880"/>
<rect x="1101.60" y="596.025" width="30.27" height="13.425" fill="#04447D"/>
<rect x="1130.87" y="596.025" width="30.27" height="13.425" fill="#05427B"/>
<rect x="1160.14" y="596.025" width="30.27" height="13.425" fill="#04447D"/>
<rect x="1189.41" y="596.025" width="30.27" height="13.425" fill="#0561A0"/>
<rect x="1218.68" y="596.025" width="30.27" height="13.425" fill="#058C60"/>
<rect x="1247.95" y="596.025" width="30.27" height="13.425" fill="#32A340"/>
<rect x="1277.22" y="596.025" width="30.27" height="13.425" fill="#8BBF2F"/>
<rect x="1306.49" y="596.025" width="30.27" height="13.425" fill="#C2CB3D"/>
<rect x="1335.76" y="596.025" width="30.27" height="13.425" fill="#FEEFB9"/>
<rect x="1365.03" y="596.025" width="58.54" height="13.425" fill="#FFF2C0"/>
<rect x="1452.84" y="596.025" width="29.27" height="13.425" fill="#FFF2C0"/>
<rect x="808.90" y="608.450" width="176.62" height="13.425" fill="#FFF2C0"/>
<rect x="984.52" y="608.450" width="30.27" height="13.425" fill="#FDECB2"/>
<rect x="1013.79" y="608.450" width="30.27" height="13.425" fill="#E5D34F"/>
<rect x="1043.06" y="608.450" width="30.27" height="13.425" fill="#6FB730"/>
<rect x="1072.33" y="608.450" width="30.27" height="13.425" fill="#058C60"/>
<rect x="1101.60" y="608.450" width="30.27" height="13.425" fill="#044C89"/>
<rect x="1130.87" y="608.450" width="30.27" height="13.425" fill="#055290"/>
<rect x="1160.14" y="608.450" width="30.27" height="13.425" fill="#055C9C"/>
<rect x="1189.41" y="608.450" width="30.27" height="13.425" fill="#058965"/>
<rect x="1218.68" y="608.450" width="30.27" height="13.425" fill="#058C60"/>
<rect x="1247.95" y="608.450" width="30.27" height="13.425" fill="#4FAF35"/>
<rect x="1277.22" y="608.450" width="30.27" height="13.425" fill="#ABC634"/>
<rect x="1306.49" y="608.450" width="30.27" height="13.425" fill="#DAD046"/>
<rect x="1335.76" y="608.450" width="30.27" height="13.425" fill="#FEEFB9"/>
<rect x="1365.03" y="608.450" width="117.08" height="13.425" fill="#FFF2C0"/>
<rect x="808.90" y="620.875" width="176.62" height="13.425" fill="#FFF2C0"/>
<rect x="984.52" y="620.875" width="30.27" height="13.425" fill="#FEEFB9"/>
<rect x="1013.79" y="620.875" width="30.27" height="13.425" fill="#C2CB3D"/>
<rect x="1043.06" y="620.875" width="30.27" height="13.425" fill="#7ABA30"/>
<rect x="1072.33" y="620.875" width="30.27" height="13.425" fill="#0B9453"/>
<rect x="1101.60" y="620.875" width="59.54" height="13.425" fill="#05679E"/>
<rect x="1160.14" y="620.875" width="30.27" height="13.425" fill="#0564A3"/>
<rect x="1189.41" y="620.875" width="30.27" height="13.425" fill="#058272"/>
<rect x="1218.68" y="620.875" width="30.27" height="13.425" fill="#2A9F45"/>
<rect x="1247.95" y="620.875" width="30.27" height="13.425" fill="#3DA83A"/>
<rect x="1277.22" y="620.875" width="30.27" height="13.425" fill="#A0C430"/>
<rect x="1306.49" y="620.875" width="30.27" height="13.425" fill="#DAD046"/>
<rect x="1335.76" y="620.875" width="30.27" height="13.425" fill="#FDECB2"/>
<rect x="1365.03" y="620.875" width="117.08" height="13.425" fill="#FFF2C0"/>
<rect x="808.90" y="633.300" width="176.62" height="13.425" fill="#FFF2C0"/>
<rect x="984.52" y="633.300" width="30.27" height="13.425" fill="#FBE8A3"/>
<rect x="1013.79" y="633.300" width="30.27" height="13.425" fill="#B7C938"/>
<rect x="1043.06" y="633.300" width="30.27" height="13.425" fill="#40A939"/>
<rect x="1072.33" y="633.300" width="30.27" height="13.425" fill="#058965"/>
<rect x="1101.60" y="633.300" width="88.81" height="13.425" fill="#055F9F"/>
<rect x="1189.41" y="633.300" width="30.27" height="13.425" fill="#057880"/>
<rect x="1218.68" y="633.300" width="30.27" height="13.425" fill="#068F5C"/>
<rect x="1247.95" y="633.300" width="30.27" height="13.425" fill="#64B432"/>
<rect x="1277.22" y="633.300" width="30.27" height="13.425" fill="#AFC736"/>
<rect x="1306.49" y="633.300" width="30.27" height="13.425" fill="#DAD046"/>
<rect x="1335.76" y="633.300" width="30.27" height="13.425" fill="#FEEFB9"/>
<rect x="1365.03" y="633.300" width="117.08" height="13.425" fill="#FFF2C0"/>
<rect x="808.90" y="645.725" width="30.27" height="13.425" fill="#FFF2C0"/>
<rect x="838.17" y="645.725" width="30.27" height="12.425" fill="#FFF2C0"/>
<rect x="867.44" y="645.725" width="118.08" height="13.425" fill="#FFF2C0"/>
<rect x="984.52" y="645.725" width="30.27" height="13.425" fill="#FDECB2"/>
<rect x="1013.79" y="645.725" width="30.27" height="13.425" fill="#E6D454"/>
<rect x="1043.06" y="645.725" width="30.27" height="13.425" fill="#7ABA30"/>
<rect x="1072.33" y="645.725" width="30.27" height="13.425" fill="#058965"/>
<rect x="1101.60" y="645.725" width="59.54" height="13.425" fill="#053F76"/>
<rect x="1160.14" y="645.725" width="30.27" height="13.425" fill="#05427B"/>
<rect x="1189.41" y="645.725" width="30.27" height="13.425" fill="#0561A0"/>
<rect x="1218.68" y="645.725" width="30.27" height="13.425" fill="#057783"/>
<rect x="1247.95" y="645.725" width="30.27" height="13.425" fill="#209B4A"/>
<rect x="1277.22" y="645.725" width="30.27" height="13.425" fill="#98C22E"/>
<rect x="1306.49" y="645.725" width="30.27" height="13.425" fill="#C8CC3F"/>
<rect x="1335.76" y="645.725" width="30.27" height="13.425" fill="#FBE8A3"/>
<rect x="1365.03" y="645.725" width="117.08" height="13.425" fill="#FFF2C0"/>
<rect x="808.90" y="658.150" width="29.27" height="12.425" fill="#FFF2C0"/>
<rect x="867.44" y="658.150" width="30.27" height="13.425" fill="#FFF2C0"/>
<rect x="896.71" y="658.150" width="30.27" height="12.425" fill="#FFF2C0"/>
<rect x="925.98" y="658.150" width="118.08" height="13.425" fill="#FFF2C0"/>
<rect x="1043.06" y="658.150" width="30.27" height="12.425" fill="#5AB233"/>
<rect x="1072.33" y="658.150" width="30.27" height="13.425" fill="#2DA044"/>
<rect x="1101.60" y="658.150" width="30.27" height="13.425" fill="#044984"/>
<rect x="1130.87" y="658.150" width="30.27" height="13.425" fill="#044782"/>
<rect x="1160.14" y="658.150" width="30.27" height="13.425" fill="#055798"/>
<rect x="1189.41" y="658.150" width="30.27" height="13.425" fill="#0561A0"/>
<rect x="1218.68" y="658.150" width="30.27" height="13.425" fill="#B7C938"/>
<rect x="1247.95" y="658.150" width="30.27" height="12.425" fill="#068F5C"/>
<rect x="1277.22" y="658.150" width="30.27" height="13.425" fill="#98C22E"/>
<rect x="1306.49" y="658.150" width="30.27" height="12.425" fill="#C2CB3D"/>
<rect x="1335.76" y="658.150" width="30.27" height="13.425" fill="#FCEAAD"/>
<rect x="1365.03" y="658.150" width="117.08" height="13.425" fill="#FFF2C0"/>
<rect x="867.44" y="670.575" width="29.27" height="12.425" fill="#FFF2C0"/>
<rect x="925.98" y="670.575" width="117.08" height="12.425" fill="#FFF2C0"/>
<rect x="1072.33" y="670.575" width="30.27" height="12.425" fill="#058965"/>
<rect x="1101.60" y="670.575" width="59.54" height="12.425" fill="#053F76"/>
<rect x="1160.14" y="670.575" width="30.27" height="12.425" fill="#04447D"/>
<rect x="1189.41" y="670.575" width="30.27" height="12.425" fill="#044A86"/>
<rect x="1218.68" y="670.575" width="29.27" height="12.425" fill="#FBE8A3"/>
<rect x="1277.22" y="670.575" width="29.27" height="12.425" fill="#FBE8A3"/>
<rect x="1335.76" y="670.575" width="146.35" height="12.425" fill="#FFF2C0"/>
<text x="1145.5" y="172.8" text-anchor="middle" class="strip">Perennial forbs and grasses (PFG)</text>
<text class="ax" text-anchor="end" transform="translate(806.7,685.5) rotate(-45)" dy="0.72em">Jan</text>
<text class="ax" text-anchor="end" transform="translate(863.4,685.5) rotate(-45)" dy="0.72em">Feb</text>
<text class="ax" text-anchor="end" transform="translate(914.7,685.5) rotate(-45)" dy="0.72em">Mar</text>
<text class="ax" text-anchor="end" transform="translate(971.4,685.5) rotate(-45)" dy="0.72em">Apr</text>
<text class="ax" text-anchor="end" transform="translate(1026.3,685.5) rotate(-45)" dy="0.72em">May</text>
<text class="ax" text-anchor="end" transform="translate(1083.0,685.5) rotate(-45)" dy="0.72em">Jun</text>
<text class="ax" text-anchor="end" transform="translate(1137.9,685.5) rotate(-45)" dy="0.72em">Jul</text>
<text class="ax" text-anchor="end" transform="translate(1194.6,685.5) rotate(-45)" dy="0.72em">Aug</text>
<text class="ax" text-anchor="end" transform="translate(1251.3,685.5) rotate(-45)" dy="0.72em">Sep</text>
<text class="ax" text-anchor="end" transform="translate(1306.2,685.5) rotate(-45)" dy="0.72em">Oct</text>
<text class="ax" text-anchor="end" transform="translate(1362.9,685.5) rotate(-45)" dy="0.72em">Nov</text>
<text class="ax" text-anchor="end" transform="translate(1417.7,685.5) rotate(-45)" dy="0.72em">Dec</text>
<text x="122" y="636.5" text-anchor="end" class="ay">1990</text>
<text x="122" y="574.4" text-anchor="end" class="ay">1995</text>
<text x="122" y="512.2" text-anchor="end" class="ay">2000</text>
<text x="122" y="450.1" text-anchor="end" class="ay">2005</text>
<text x="122" y="388.0" text-anchor="end" class="ay">2010</text>
<text x="122" y="325.9" text-anchor="end" class="ay">2015</text>
<text x="122" y="263.7" text-anchor="end" class="ay">2020</text>
<text x="122" y="201.6" text-anchor="end" class="ay">2025</text>
<defs><linearGradient id="g" x1="0" x2="1" y1="0" y2="0"><stop offset="0.0100" stop-color="#FFF2C0"/><stop offset="0.0166" stop-color="#FFF2C0"/><stop offset="0.0298" stop-color="#FDECB2"/><stop offset="0.0563" stop-color="#FAE69E"/><stop offset="0.0893" stop-color="#F3E28C"/><stop offset="0.1290" stop-color="#EEDC74"/><stop offset="0.1554" stop-color="#E9D65E"/><stop offset="0.1819" stop-color="#E4D24A"/><stop offset="0.2215" stop-color="#D8D045"/><stop offset="0.2744" stop-color="#C2CB3D"/><stop offset="0.3406" stop-color="#9CC32E"/><stop offset="0.4067" stop-color="#72B830"/><stop offset="0.4926" stop-color="#45AC36"/><stop offset="0.5587" stop-color="#2A9F45"/><stop offset="0.6249" stop-color="#089355"/><stop offset="0.6778" stop-color="#058B62"/><stop offset="0.7373" stop-color="#057A7E"/><stop offset="0.7901" stop-color="#056E92"/><stop offset="0.8364" stop-color="#0564A3"/><stop offset="0.8893" stop-color="#055798"/><stop offset="0.9554" stop-color="#04457F"/><stop offset="1.0000" stop-color="#063B70"/></linearGradient></defs>
<rect x="781.4" y="758.9" width="290.7" height="56.1" fill="url(#g)"/>
<line x1="782.6" y1="758.9" x2="782.6" y2="770.2" stroke="#CFCFCF" stroke-width="2"/>
<line x1="782.6" y1="803.7" x2="782.6" y2="815.0" stroke="#CFCFCF" stroke-width="2"/>
<text x="783.0" y="837.2" text-anchor="middle" class="leg" transform="translate(0,837.2) scale(1,1.06) translate(0,-837.2)">0</text>
<line x1="880.4" y1="758.9" x2="880.4" y2="770.2" stroke="#CFCFCF" stroke-width="2"/>
<line x1="880.4" y1="803.7" x2="880.4" y2="815.0" stroke="#CFCFCF" stroke-width="2"/>
<text x="880.8" y="837.2" text-anchor="middle" class="leg" transform="translate(0,837.2) scale(1,1.06) translate(0,-837.2)">50</text>
<line x1="976.5" y1="758.9" x2="976.5" y2="770.2" stroke="#CFCFCF" stroke-width="2"/>
<line x1="976.5" y1="803.7" x2="976.5" y2="815.0" stroke="#CFCFCF" stroke-width="2"/>
<text x="976.9" y="837.2" text-anchor="middle" class="leg" transform="translate(0,837.2) scale(1,1.06) translate(0,-837.2)">100</text>
<text x="764.6" y="806.9" text-anchor="end" class="legt" transform="translate(0,806.9) scale(1,1.05) translate(0,-806.9)">Production (lbs/ac)</text>
</g>
</svg>
</body></html>
